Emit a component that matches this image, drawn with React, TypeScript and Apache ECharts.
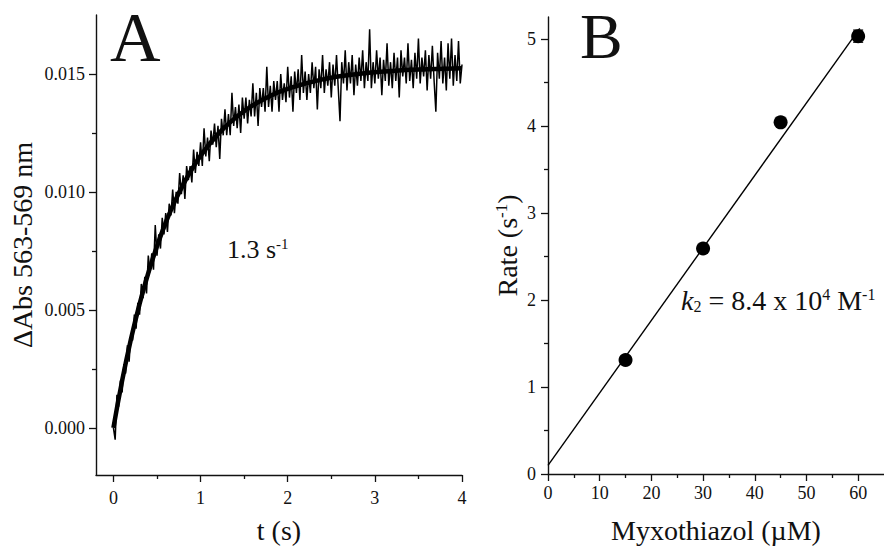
import React, { useEffect, useRef } from "react";
import * as echarts from "echarts";

// ---------- Panel A: absorbance trace ----------
const traceStartTime = 0; // s
const traceStep = 0.02; // s between samples
// ΔAbs 563-569 nm, in units of 10^-3
const traceMilliAbs = [
  0.0, -0.5, 1.4, 0.9, 2.0, 1.5, 2.7, 2.3, 3.5, 2.8, 3.9,
  3.7, 4.8, 4.2, 5.3, 4.8, 6.1, 5.5, 6.4, 5.7, 7.3,
  6.6, 7.4, 6.7, 8.6, 7.3, 8.2, 7.6, 8.9, 8.2, 9.1,
  8.3, 9.5, 9.0, 10.1, 9.1, 10.0, 9.5, 10.8, 9.9, 10.7,
  9.7, 11.1, 10.5, 11.1, 10.4, 11.8, 10.8, 11.7, 11.1, 12.1,
  11.1, 12.7, 11.5, 12.3, 11.3, 12.6, 12.0, 12.9, 11.9, 12.8,
  11.4, 13.1, 12.4, 13.5, 12.4, 13.3, 12.4, 14.2, 12.8, 13.6,
  12.7, 13.7, 12.5, 14.0, 13.1, 14.0, 12.9, 13.9, 13.2, 14.6,
  13.2, 14.2, 12.8, 14.4, 13.6, 14.4, 13.4, 15.3, 13.6, 14.5,
  13.4, 14.7, 13.9, 14.7, 13.4, 15.0, 13.9, 14.6, 13.8, 15.3,
  14.0, 14.9, 13.4, 15.1, 14.2, 15.2, 13.9, 15.8, 14.2, 15.1,
  13.9, 15.0, 14.2, 15.5, 14.4, 15.3, 13.5, 15.2, 14.4, 15.8,
  14.2, 15.2, 14.5, 15.5, 14.0, 15.4, 14.5, 15.8, 14.4, 13.0,
  15.5, 14.6, 16.0, 14.3, 15.5, 14.6, 15.8, 14.1, 15.4, 14.5,
  15.7, 14.7, 16.0, 14.4, 15.5, 14.7, 16.9, 14.4, 15.5, 14.6,
  16.0, 14.8, 15.7, 14.1, 15.6, 14.7, 16.3, 14.5, 15.5, 14.4,
  15.9, 14.7, 15.7, 14.0, 16.0, 14.9, 15.7, 14.6, 16.3, 14.7,
  15.6, 14.4, 15.9, 14.8, 16.5, 14.6, 15.7, 14.9, 16.0, 14.3,
  15.8, 14.8, 16.2, 14.7, 13.4, 15.9, 14.8, 16.4, 14.6, 15.7,
  14.3, 16.3, 14.8, 16.5, 14.5, 15.8, 14.7, 16.4, 14.6, 15.4,
];
// smooth fitted curve
const fitTimes = [0, 0.1, 0.2, 0.3, 0.4, 0.5, 0.6, 0.7, 0.8, 0.9, 1.0, 1.2, 1.4, 1.6, 1.8, 2.0, 2.4, 2.8, 3.2, 3.6, 4.0];
const fitMilliAbs = [0, 2.0, 3.74, 5.25, 6.56, 7.7, 8.7, 9.56, 10.31, 10.96, 11.53, 12.45, 13.14, 13.67, 14.07, 14.37, 14.77, 15.0, 15.13, 15.2, 15.24];

const tTicks = [0, 1, 2, 3, 4];
const tMinorTicks = [0.5, 1.5, 2.5, 3.5];
const absTicks = [0, 0.005, 0.01, 0.015];
const absMinorTicks = [0.0025, 0.0075, 0.0125];

// ---------- Panel B: rate vs myxothiazol ----------
const myxothiazol = [15, 30, 45, 60]; // µM
const rates = [1.31, 2.59, 4.04, 5.03]; // s^-1
const rateErrors = [0.03, 0.03, 0.04, 0.07];
const rateFitX = [0, 60.3];
const rateFitY = [0.1, 5.12];

const concTicks = [0, 10, 20, 30, 40, 50, 60];
const concMinorTicks = [5, 15, 25, 35, 45, 55];
const rateTicks = [0, 1, 2, 3, 4, 5];
const rateMinorTicks = [0.5, 1.5, 2.5, 3.5, 4.5];

const FONT = "Liberation Serif";
const INK = "#111111";

// label formatter that shows only the values that are in the tick list
function labelsAt(ticks: number[], digits: number) {
  return (v: number) => {
    for (const t of ticks) {
      if (Math.abs(v - t) < 1e-9 + Math.abs(t) * 1e-9) return t.toFixed(digits);
    }
    return "";
  };
}

function majorAxis(o: any) {
  return {
    type: "value",
    gridIndex: o.gridIndex,
    min: o.min,
    max: o.max,
    interval: o.step,
    position: o.position,
    axisLine: { show: true, onZero: false, lineStyle: { color: INK, width: 1.4 } },
    axisTick: { show: true, inside: false, length: 7, customValues: o.ticks, lineStyle: { color: INK, width: 1.3 } },
    axisLabel: {
      show: true,
      formatter: labelsAt(o.ticks, o.digits),
      showMinLabel: true,
      showMaxLabel: true,
      hideOverlap: false,
      margin: o.margin,
      fontFamily: FONT,
      fontSize: 18,
      color: INK,
    },
    splitLine: { show: false },
    name: o.name,
    nameLocation: "middle",
    nameGap: o.nameGap,
    nameTextStyle: {
      fontFamily: FONT,
      fontSize: 28,
      color: INK,
      rich: {
        sup: { fontFamily: FONT, fontSize: 17, color: INK, verticalAlign: "top" },
      },
    },
  };
}

function minorAxis(o: any) {
  return {
    type: "value",
    gridIndex: o.gridIndex,
    min: o.min,
    max: o.max,
    interval: o.step,
    position: o.position,
    axisLine: { show: false, onZero: false },
    axisTick: { show: true, inside: false, length: 4, customValues: o.ticks, lineStyle: { color: INK, width: 1.3 } },
    axisLabel: { show: false },
    splitLine: { show: false },
  };
}

const option: any = {
  animation: false,
  backgroundColor: "#ffffff",
  textStyle: { fontFamily: FONT, color: INK },
  grid: [
    { left: 96, top: 15, width: 366, height: 460, outerBoundsMode: "none" },
    { left: 548, top: 17, width: 336, height: 457, outerBoundsMode: "none" },
  ],
  xAxis: [
    majorAxis({ gridIndex: 0, min: -0.2, max: 4, step: 0.2, position: "bottom", ticks: tTicks, digits: 0, margin: 14, name: "t (s)", nameGap: 41 }),
    minorAxis({ gridIndex: 0, min: -0.2, max: 4, step: 0.2, position: "bottom", ticks: tMinorTicks }),
    majorAxis({ gridIndex: 1, min: 0, max: 65, step: 5, position: "bottom", ticks: concTicks, digits: 0, margin: 10, name: "Myxothiazol (\u00b5M)", nameGap: 42 }),
    minorAxis({ gridIndex: 1, min: 0, max: 65, step: 5, position: "bottom", ticks: concMinorTicks }),
  ],
  yAxis: [
    majorAxis({ gridIndex: 0, min: -0.002, max: 0.0175, step: 0.0005, position: "left", ticks: absTicks, digits: 3, margin: 11, name: "\u0394Abs 563-569 nm", nameGap: 60 }),
    minorAxis({ gridIndex: 0, min: -0.002, max: 0.0175, step: 0.0005, position: "left", ticks: absMinorTicks }),
    majorAxis({ gridIndex: 1, min: 0, max: 5.25, step: 0.25, position: "left", ticks: rateTicks, digits: 0, margin: 12, name: "Rate (s{sup|-1})", nameGap: 27 }),
    minorAxis({ gridIndex: 1, min: 0, max: 5.25, step: 0.25, position: "left", ticks: rateMinorTicks }),
  ],
  series: [
    {
      type: "line",
      xAxisIndex: 0,
      yAxisIndex: 0,
      data: traceMilliAbs.map((v, i) => [traceStartTime + i * traceStep, v / 1000]),
      showSymbol: false,
      symbol: "none",
      lineStyle: { color: "#000", width: 1.5 },
      z: 2,
    },
    {
      type: "line",
      xAxisIndex: 0,
      yAxisIndex: 0,
      data: fitTimes.map((t, i) => [t, fitMilliAbs[i] / 1000]),
      smooth: true,
      showSymbol: false,
      symbol: "none",
      lineStyle: { color: "#000", width: 4.5 },
      z: 3,
    },
    {
      type: "line",
      xAxisIndex: 2,
      yAxisIndex: 2,
      data: rateFitX.map((x, i) => [x, rateFitY[i]]),
      showSymbol: false,
      symbol: "none",
      lineStyle: { color: "#000", width: 1.4 },
      z: 2,
    },
    {
      type: "custom",
      xAxisIndex: 2,
      yAxisIndex: 2,
      data: myxothiazol.map((x, i) => [x, rates[i], rateErrors[i]]),
      encode: { x: 0, y: 1 },
      renderItem: (_params: any, api: any) => {
        const x = api.value(0);
        const y = api.value(1);
        const e = api.value(2);
        const top = api.coord([x, y + e]);
        const bot = api.coord([x, y - e]);
        const hw = 5;
        const st = { stroke: "#000", lineWidth: 1.2 };
        return {
          type: "group",
          children: [
            { type: "line", shape: { x1: top[0], y1: top[1], x2: bot[0], y2: bot[1] }, style: st },
            { type: "line", shape: { x1: top[0] - hw, y1: top[1], x2: top[0] + hw, y2: top[1] }, style: st },
            { type: "line", shape: { x1: bot[0] - hw, y1: bot[1], x2: bot[0] + hw, y2: bot[1] }, style: st },
          ],
        };
      },
      z: 3,
    },
    {
      type: "scatter",
      xAxisIndex: 2,
      yAxisIndex: 2,
      data: myxothiazol.map((x, i) => [x, rates[i]]),
      symbol: "circle",
      symbolSize: 14,
      itemStyle: { color: "#000", opacity: 1 },
      z: 4,
    },
  ],
  graphic: [
    { type: "text", left: 110, top: 2, style: { text: "A", fontSize: 70, fontFamily: FONT, fill: INK } },
    { type: "text", left: 580, top: 4, style: { text: "B", fontSize: 64, fontFamily: FONT, fill: INK } },
    {
      type: "text",
      left: 227,
      top: 236,
      style: {
        text: "1.3 s{sup|-1}",
        fontSize: 26,
        fontFamily: FONT,
        fill: INK,
        rich: { sup: { fontSize: 15, fontFamily: FONT, fill: INK, verticalAlign: "top" } },
      },
    },
    {
      type: "text",
      left: 681,
      top: 286,
      style: {
        text: "{k|k}{sub|2} = 8.4 x 10{sup|4} M{sup|-1}",
        fontSize: 28,
        fontFamily: FONT,
        fill: INK,
        rich: {
          k: { fontSize: 28, fontFamily: FONT, fontStyle: "italic", fill: INK },
          sub: { fontSize: 16, fontFamily: FONT, fill: INK, verticalAlign: "bottom" },
          sup: { fontSize: 16, fontFamily: FONT, fill: INK, verticalAlign: "top" },
        },
      },
    },
  ],
};

export default function App() {
  const ref = useRef<HTMLDivElement>(null);
  useEffect(() => {
    if (!ref.current) return;
    const chart = echarts.init(ref.current, null, { renderer: "svg" });
    chart.setOption(option);
    return () => chart.dispose();
  }, []);
  return (
    <div
      ref={ref}
      style={{ position: "fixed", left: 0, top: 0, width: 884, height: 546, background: "#fff" }}
    />
  );
}
